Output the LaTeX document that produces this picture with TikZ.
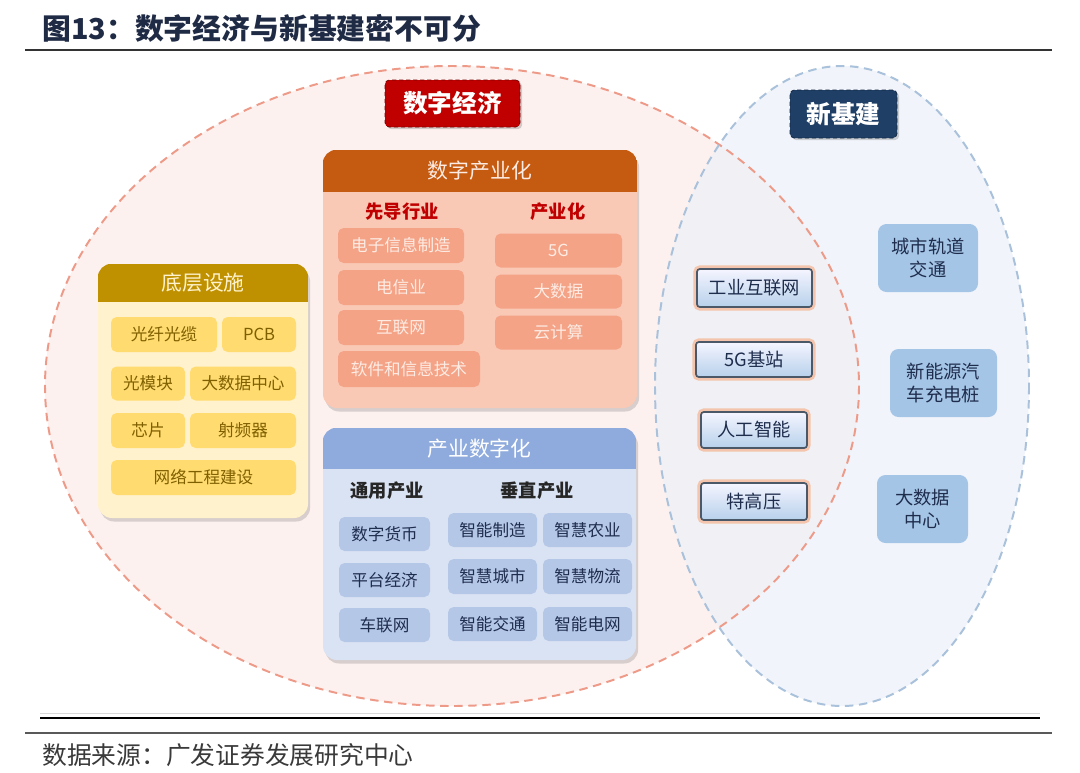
\documentclass[tikz,border=0pt]{standalone}
\usepackage{fontspec}
\setmainfont{Noto Sans CJK SC}
\usetikzlibrary{positioning, shadows}

\definecolor{titleblue}{HTML}{1F2A44}
\definecolor{sourcegray}{HTML}{3A3A3A}
\definecolor{econred}{HTML}{C00000}
\definecolor{infranavy}{HTML}{1F3F66}
\definecolor{ringred}{HTML}{EE9A88}
\definecolor{ringredfill}{HTML}{FDF1EF}
\definecolor{ringblue}{HTML}{A9C1DA}
\definecolor{ringbluefill}{HTML}{EAF0F9}
\definecolor{goldhead}{HTML}{BF9000}
\definecolor{goldpanel}{HTML}{FFF2CC}
\definecolor{goldbox}{HTML}{FFDB70}
\definecolor{goldtext}{HTML}{7F6000}
\definecolor{salmonhead}{HTML}{C55A11}
\definecolor{salmonpanel}{HTML}{F9C9B6}
\definecolor{salmonbox}{HTML}{F4A387}
\definecolor{salmontext}{HTML}{FDECE4}
\definecolor{bluehead}{HTML}{8FAADC}
\definecolor{bluepanel}{HTML}{DAE3F3}
\definecolor{bluebox}{HTML}{B4C7E7}
\definecolor{bluetext}{HTML}{1F2D4D}
\definecolor{sidebox}{HTML}{A5C5E6}
\definecolor{glow}{HTML}{F6B48E}
\definecolor{bevel}{HTML}{4A5868}

\begin{document}
\begin{tikzpicture}[x=0.025cm, y=-0.025cm,
    box/.style 2 args={rectangle, rounded corners=4pt, inner sep=0pt,
        minimum width=#1*0.025cm, minimum height=#2*0.025cm},
    panel/.style 2 args={box={#1}{#2}, rounded corners=10pt,
        drop shadow={opacity=0.3, shadow xshift=1.5pt, shadow yshift=-2.5pt}},
    cell/.style={font=\fontsize{11.8}{14}\selectfont},
    headtext/.style={font=\fontsize{14.8}{17}\selectfont},
    subhead/.style={font=\fontsize{13}{15}\selectfont\bfseries},
    goldcell/.style 2 args={box={#1}{#2}, cell, fill=goldbox, text=goldtext},
    salmoncell/.style 2 args={box={#1}{#2}, cell, fill=salmonbox, text=salmontext},
    bluecell/.style 2 args={box={#1}{#2}, cell, fill=bluebox, text=bluetext},
    glowcell/.style 2 args={box={#1}{#2}, rounded corners=2pt,
        font=\fontsize{13}{15}\selectfont, text=bluetext,
        preaction={draw=glow, line width=5pt, opacity=0.7},
        top color=blue!4, bottom color=sidebox!80, draw=bevel, line width=1.2pt},
    sidecell/.style 2 args={box={#1}{#2}, rounded corners=6pt, align=center,
        font=\fontsize{13}{17}\selectfont, fill=sidebox, text=bluetext},
    tag/.style 2 args={box={#1}{#2}, rounded corners=3pt, text=white,
        font=\fontsize{17.5}{20}\selectfont\bfseries, densely dashed, line width=0.5pt,
        drop shadow={opacity=0.35, shadow xshift=1.5pt, shadow yshift=-1.5pt}},
    ring/.style={dash pattern=on 6pt off 4pt, line width=1.4pt}]

    \useasboundingbox (0,0) rectangle (1080,772);
    \fill[white] (0,0) rectangle (1080,772);

    % title and rules
    \node[anchor=west, inner sep=0pt, text=titleblue,
          font=\fontsize{20.5}{24}\selectfont\bfseries] (title) at (42,28)
          {图13：数字经济与新基建密不可分};
    \draw[line width=1.5pt, black!80] (25,50) -- (1052,50);
    \draw[line width=0.6pt, black!15] (40,713) -- (1040,713);
    \draw[line width=2pt, black] (40,718) -- (1040,718);
    \draw[line width=1.4pt, black!65] (25,733) -- (1052,733);
    \node[anchor=west, inner sep=0pt, text=sourcegray,
          font=\fontsize{17.6}{20}\selectfont] (source) at (42,755)
          {数据来源：广发证券发展研究中心};

    % the two rings
    \fill[ringredfill] (452,386) ellipse [x radius=407, y radius=320];
    \fill[ringbluefill, opacity=0.65] (842,386) ellipse [x radius=187, y radius=320];
    \draw[ring, ringred] (452,386) ellipse [x radius=407, y radius=320];
    \draw[ring, ringblue] (842,386) ellipse [x radius=187, y radius=320];

    % ring tags
    \node[tag={135}{47}, fill=econred, draw=econred!60!black] (econ) at (452.5,103.5) {数字经济};
    \node[tag={107}{48}, fill=infranavy, draw=infranavy!60!black] (infra) at (843.5,114) {新基建};

    % bottom layer
    \node[panel={210}{254}, fill=goldpanel] (base) at (203,391) {};
    \begin{scope}
        \clip[rounded corners=10pt] (base.north west) rectangle (base.south east);
        \fill[goldhead] (98,264) rectangle (308,302);
    \end{scope}
    \node[headtext, text=goldpanel] (basehead) at (203,283) {底层设施};
    \node[goldcell={106}{35}] (fibre) at (164,334.5) {光纤光缆};
    \node[goldcell={74}{35}] (pcb) at (259,334.5) {PCB};
    \node[goldcell={74}{34}] (optmod) at (148,383.5) {光模块};
    \node[goldcell={106}{34}] (datacentre) at (243,383.5) {大数据中心};
    \node[goldcell={74}{35}] (chip) at (148,430.5) {芯片};
    \node[goldcell={106}{35}] (rf) at (243,430.5) {射频器};
    \node[goldcell={185}{35}] (network) at (203.5,477.5) {网络工程建设};

    % digital industrialisation
    \node[panel={314}{258}, fill=salmonpanel] (digind) at (480,279) {};
    \begin{scope}
        \clip[rounded corners=10pt] (digind.north west) rectangle (digind.south east);
        \fill[salmonhead] (323,150) rectangle (637,192);
    \end{scope}
    \node[headtext, text=salmontext] (digindhead) at (480,171) {数字产业化};
    \node[subhead, text=econred] (lead) at (402,212) {先导行业};
    \node[subhead, text=econred] (indus) at (558,212) {产业化};
    \node[salmoncell={126}{35}] (electro) at (401,245.5) {电子信息制造};
    \node[salmoncell={126}{35}] (telecom) at (401,287.5) {电信业};
    \node[salmoncell={126}{35}] (internet) at (401,327.5) {互联网};
    \node[salmoncell={142}{36}] (software) at (409,369) {软件和信息技术};
    \node[salmoncell={127}{34}] (fiveg) at (558.5,250.5) {5G};
    \node[salmoncell={127}{34}] (bigdata) at (558.5,291.5) {大数据};
    \node[salmoncell={127}{34}] (cloud) at (558.5,332.5) {云计算};

    % industrial digitalisation
    \node[panel={313}{232}, fill=bluepanel] (inddig) at (479.5,544) {};
    \begin{scope}
        \clip[rounded corners=10pt] (inddig.north west) rectangle (inddig.south east);
        \fill[bluehead] (323,428) rectangle (636,469);
    \end{scope}
    \node[headtext, text=white] (inddighead) at (479.5,448.5) {产业数字化};
    \node[subhead, text=black!85] (general) at (387,491) {通用产业};
    \node[subhead, text=black!85] (vertical) at (537,491) {垂直产业};
    \node[bluecell={91}{34}] (currency) at (384.5,534) {数字货币};
    \node[bluecell={91}{34}] (platform) at (384.5,580) {平台经济};
    \node[bluecell={91}{34}] (iov) at (384.5,625) {车联网};
    \node[bluecell={89}{34}] (smartmfg) at (492.5,530) {智能制造};
    \node[bluecell={89}{34}] (smartagri) at (587.5,530) {智慧农业};
    \node[bluecell={89}{35}] (smartcity) at (492.5,576.5) {智慧城市};
    \node[bluecell={89}{35}] (smartlog) at (587.5,576.5) {智慧物流};
    \node[bluecell={89}{34}] (smarttraffic) at (492.5,624) {智能交通};
    \node[bluecell={89}{34}] (smartgrid) at (587.5,624) {智能电网};

    % shared by both rings
    \node[glowcell={115}{38}] (iiot) at (754.5,288) {工业互联网};
    \node[glowcell={116}{35}] (station) at (754,359.5) {5G基站};
    \node[glowcell={106}{36}] (ai) at (754,430) {人工智能};
    \node[glowcell={106}{37}] (uhv) at (754,501.5) {特高压};

    % new infrastructure only
    \node[sidecell={100}{68}] (rail) at (928,258) {城市轨道\\交通};
    \node[sidecell={107}{68}] (charger) at (943.5,383) {新能源汽\\车充电桩};
    \node[sidecell={91}{68}] (bigdc) at (922.5,509) {大数据\\中心};

\end{tikzpicture}
\end{document}
